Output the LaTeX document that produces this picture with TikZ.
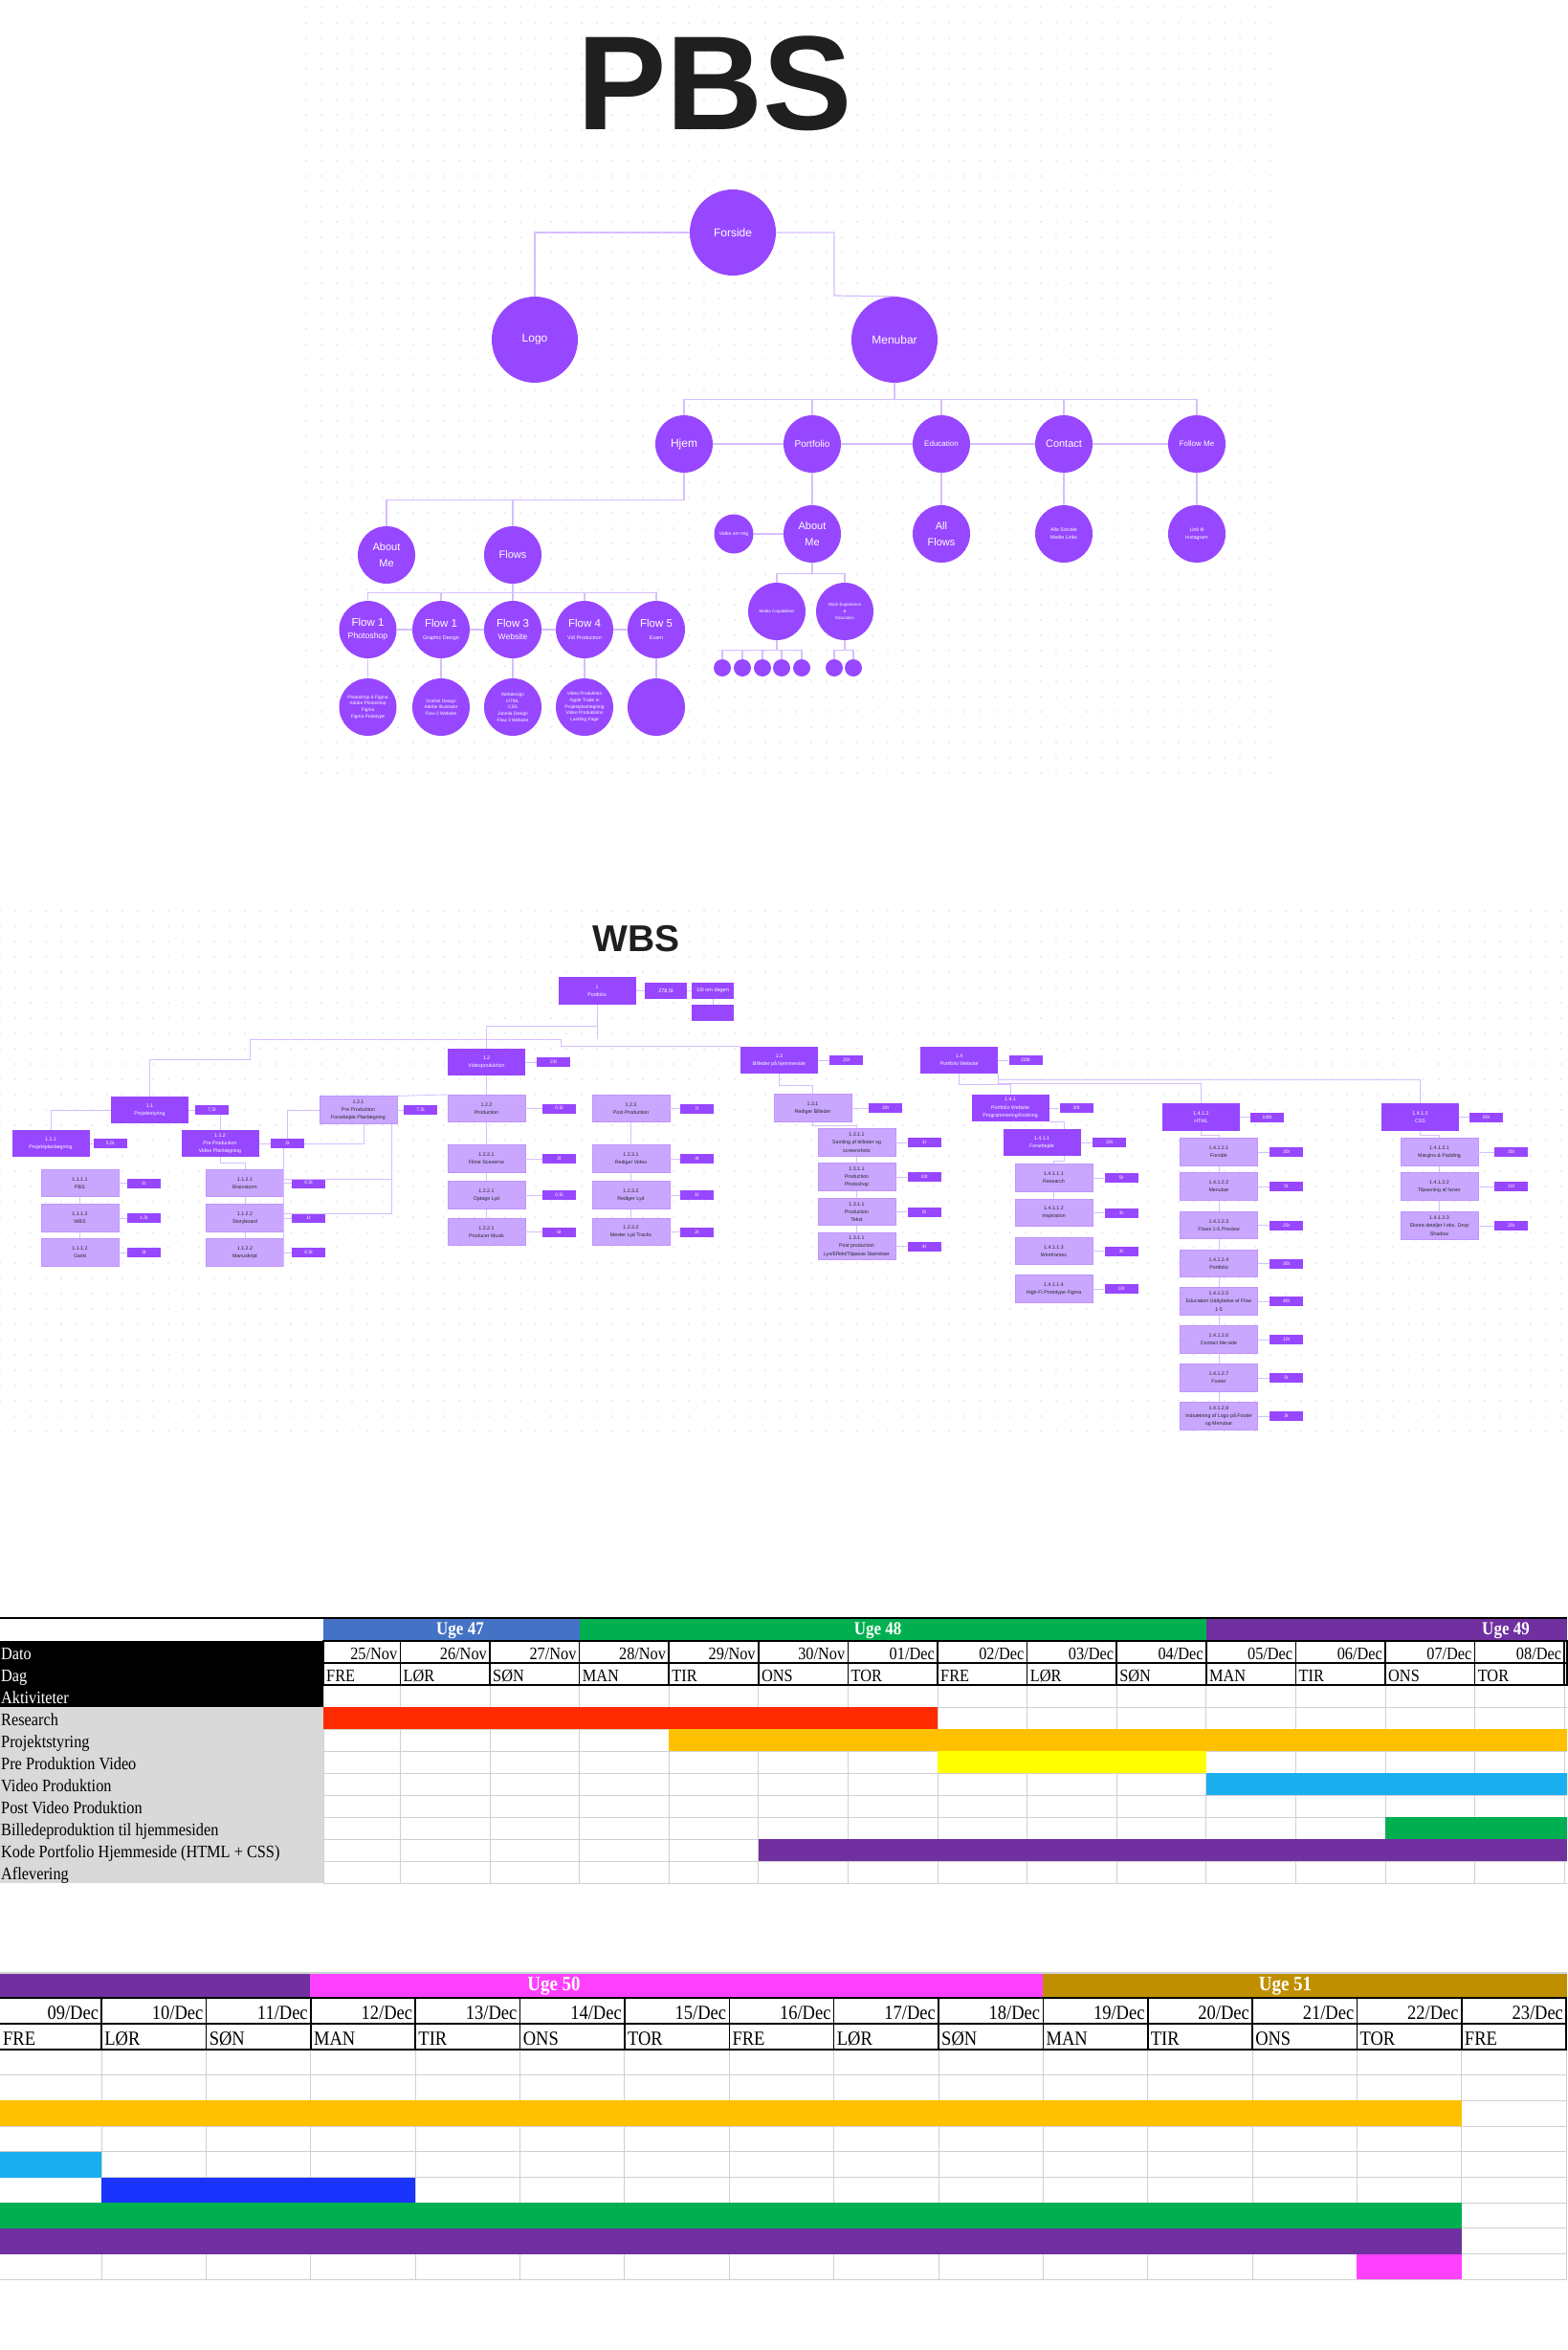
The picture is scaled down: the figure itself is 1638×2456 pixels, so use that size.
\documentclass[tikz,border=0pt]{standalone}
\usepackage{fontspec}
\usepackage{tikz}
\usetikzlibrary{calc,positioning,patterns.meta}
\setmainfont{Liberation Sans}
\newfontfamily\regneark{Liberation Serif}
\definecolor{lilla}{HTML}{9747FF}
\definecolor{lysLilla}{HTML}{C9A7FF}
\definecolor{linjeLilla}{HTML}{D6BEFF}
\definecolor{prikGra}{HTML}{DDDDDD}
\definecolor{ugeBla}{HTML}{4472C4}
\definecolor{ugeGron}{HTML}{00B050}
\definecolor{ugeLilla}{HTML}{7030A0}
\definecolor{ugePink}{HTML}{FF40FF}
\definecolor{ugeGuld}{HTML}{BF8F00}
\definecolor{rod}{HTML}{FF2A00}
\definecolor{gulOrange}{HTML}{FFC000}
\definecolor{gul}{HTML}{FFFF00}
\definecolor{cyanBla}{HTML}{1AAFEF}
\definecolor{morkBla}{HTML}{1A33FF}
\definecolor{etiketGra}{HTML}{D9D9D9}
\definecolor{gitterGra}{HTML}{D0D0D0}
\newcommand{\skrift}[2]{\fontsize{#1}{#2}\selectfont}
\newcommand{\hoj}[1]{\scalebox{1}[1.13]{#1}}

\begin{document}
\begin{tikzpicture}[x=1pt,y=-1pt,
  cirkel/.style={circle,fill=lilla,text=white,inner sep=0pt,align=center,minimum size=60pt,font=\skrift{11}{17}},
  stor/.style={cirkel,minimum size=90pt,font=\skrift{12}{14}},
  lille/.style={cirkel,minimum size=41pt,font=\skrift{5}{6}},
  prik/.style={cirkel,minimum size=18pt},
  detalje/.style={cirkel,font=\skrift{4.8}{6.7}},
  linje/.style={draw=linjeLilla,line width=1.2pt},
  boks/.style={rectangle,fill=lilla,text=white,inner sep=1pt,align=center,minimum width=81pt,minimum height=28.5pt,font=\skrift{5.3}{8.3}},
  lysBoks/.style={boks,fill=lysLilla,draw=lysLilla!80!lilla,line width=0.6pt,text=black!85},
  tid/.style={rectangle,fill=lilla,text=white,inner sep=0pt,minimum width=35pt,minimum height=10pt,font=\skrift{5}{6}},
  wlinje/.style={draw=linjeLilla,line width=0.8pt},
  arkTekst/.style={font=\regneark\skrift{16.3}{17},inner sep=0pt},
  storTekst/.style={font=\regneark\skrift{18.5}{19},inner sep=0pt},
  ugeTekst/.style={font=\regneark\bfseries\skrift{17}{17},text=white,inner sep=0pt}]
\useasboundingbox (0,0) rectangle (1638,2456);
\fill[pattern={Dots[radius=0.8pt,distance=16pt]},pattern color=prikGra] (305,0) rectangle (1331,814);
\fill[pattern={Dots[radius=0.8pt,distance=16pt]},pattern color=prikGra] (0,947) rectangle (1638,1503);

\node[font=\bfseries\skrift{140}{140},text=black!88,inner sep=0pt] (pbsTitel) at (747,87) {PBS};
\node[stor] (forside) at (766,243) {Forside};
\node[stor] (logo) at (559,355) {Logo};
\node[stor] (menubar) at (935,355) {Menubar};
\node[cirkel,font=\skrift{12}{14}] (hjem) at (715,464) {Hjem};
\node[cirkel,font=\skrift{10}{12}] (portfolio) at (849,464) {Portfolio};
\node[cirkel,font=\skrift{8}{10}] (education) at (984,464) {Education};
\node[cirkel] (contact) at (1112,464) {Contact};
\node[cirkel,font=\skrift{8}{10}] (followme) at (1251,464) {Follow Me};
\node[cirkel] (aboutme) at (404,580) {About\\Me};
\node[cirkel] (flows) at (536,580) {Flows};
\node[lille] (videoommig) at (767,558) {Video om mig};
\node[cirkel] (omMig) at (849,558) {About\\Me};
\node[cirkel] (allflows) at (984,558) {All\\Flows};
\node[cirkel,font=\skrift{5.3}{8}] (sociale) at (1112,558) {Alle Sociale\\Medie Links};
\node[cirkel,font=\skrift{5.3}{8}] (instagram) at (1251,558) {Link til\\Instagram};
\node[cirkel,font=\skrift{4.5}{7}] (medie) at (812,639) {Media Capabilities};
\node[cirkel,font=\skrift{4.5}{7}] (arbejde) at (883,639) {Work Experience\\\&\\Education};
\foreach \n/\x/\titel/\under/\us in {1/384.5/{Flow 1}/Photoshop/8.7, 2/461/{Flow 1}/{Graphic Design}/5.5, 3/536/{Flow 3}/Website/8.5, 4/611/{Flow 4}/{Vid Production}/5.5, 5/686/{Flow 5}/Exam/5.5}
  \node[cirkel,font=\skrift{11.5}{13}] (flow\n) at (\x,658) {\titel\\{\skrift{\us}{\us}\under}};
\node[detalje] (det1) at (384.5,739) {Photoshop \& Figma\\Adobe Photoshop\\Figma\\Figma Prototype};
\node[detalje] (det2) at (461,739) {Grafisk Design\\Adobe Illustrator\\Flow 2 Website};
\node[detalje] (det3) at (536,739) {Webdesign\\HTML\\CSS\\Joomla Design\\Flow 3 Website};
\node[detalje] (det4) at (611,739) {Video Produktion\\Apple Trade In\\Projektplanlægning\\Video Produktions\\Landing Page};
\node[detalje] (det5) at (686,739) {};
\foreach \x [count=\i] in {755,776,797,817,838} \node[prik] (m\i) at (\x,698) {};
\foreach \x [count=\i] in {872,892} \node[prik] (w\i) at (\x,698) {};

\coordinate (knaek) at (872,309);
\draw[linje] (forside) -| (logo);
\draw[linje] (forside) -| (knaek) -- (menubar.north);
\draw[linje] (menubar.south) -- ++(0,17) coordinate (menuSkinne);
\draw[linje] (menuSkinne -| hjem) -- (menuSkinne -| followme);
\foreach \n in {hjem,portfolio,education,contact,followme} \draw[linje] (menuSkinne -| \n) -- (\n);
\foreach \a/\b in {hjem/portfolio,portfolio/education,education/contact,contact/followme,portfolio/omMig,education/allflows,contact/sociale,followme/instagram,videoommig/omMig} \draw[linje] (\a) -- (\b);
\draw[linje] (hjem.south) -- ++(0,28) coordinate (hjemSkinne) -| (aboutme);
\draw[linje] (hjemSkinne -| flows) -- (flows);
\draw[linje] (flows.south) -- ++(0,9) coordinate (flowSkinne);
\draw[linje] (flowSkinne -| flow1) -- (flowSkinne -| flow5);
\foreach \i in {1,...,5} {
  \draw[linje] (flowSkinne -| flow\i) -- (flow\i);
  \draw[linje] (flow\i) -- (det\i);
}
\foreach \a/\b in {1/2,2/3,3/4,4/5} \draw[linje] (flow\a) -- (flow\b);
\draw[linje] (omMig.south) -- ++(0,11) coordinate (omSkinne);
\draw[linje] (omSkinne -| medie) -- (omSkinne -| arbejde);
\draw[linje] (omSkinne -| medie) -- (medie);
\draw[linje] (omSkinne -| arbejde) -- (arbejde);
\draw[linje] (medie.south) -- ++(0,10) coordinate (medieSkinne);
\draw[linje] (medieSkinne -| m1) -- (medieSkinne -| m5);
\foreach \i in {1,...,5} \draw[linje] (medieSkinne -| m\i) -- (m\i);
\draw[linje] (arbejde.south) -- ++(0,10) coordinate (arbejdeSkinne);
\draw[linje] (arbejdeSkinne -| w1) -- (arbejdeSkinne -| w2);
\foreach \i in {1,2} \draw[linje] (arbejdeSkinne -| w\i) -- (w\i);

\node[font=\bfseries\skrift{39}{39},text=black!88,inner sep=0pt] (wbsTitel) at (665,981) {WBS};
\node[boks] (p1) at (624,1035.5) {1\\Portfolio};
\node[tid,minimum width=44pt,minimum height=17pt,font=\skrift{5.5}{6}] (tp1) at (696,1035.5) {278,5t};
\node[tid,minimum width=44pt,minimum height=17pt,font=\skrift{5.5}{6}] (dag) at (745,1035.5) {10t om dagen};
\node[tid,minimum width=44pt,minimum height=17pt] (note) at (745,1058.5) {};
\draw[wlinje] (p1) -- (tp1);
\draw[wlinje] (tp1) -- (dag);
\draw[wlinje] (dag) -- (note);
\foreach \n/\x/\y/\tekst/\antal/\tx in {
  v12/508.5/1110/{1.2\\Videoproduktion}/23t/578.5,
  b11/156.5/1160/{1.1\\Projektstyring}/{7,5t}/221.5,
  b111/53/1195/{1.1.1\\Projektplanlægning}/{5,5t}/115,
  b112/230/1195/{1.1.2\\Pre Production\\Video Planlægning}/2t/300.5,
  b13/814.5/1108/{1.3\\Billeder på hjemmeside}/20t/884.5,
  b14/1002.5/1108/{1.4\\Portfolio Website}/228t/1072,
  b141/1056/1158/{1.4.1\\Portfolio Website\\Programmering/Kodning}/20t/1125,
  b1411/1089/1194/{1.4.1.1\\Forarbejde}/20t/1159.5,
  html/1255.5/1167.5/{1.4.1.2\\HTML}/148t/1324.5,
  css/1484.5/1167.5/{1.4.1.3\\CSS}/60t/1553.5}
{
  \node[boks] (\n) at (\x,\y) {\tekst};
  \node[tid] (t\n) at (\tx,\y) {\antal};
  \draw[wlinje] (\n) -- (t\n);
}
\foreach \n/\x/\y/\tekst/\antal/\tx in {
  b121/374.5/1160/{1.2.1\\Pre Production\\Forarbejde Planlægning}/{7,5t}/439.5,
  b122/508.5/1158.5/{1.2.2\\Production}/{0,5t}/584.5,
  b1221/508.5/1211/{1.2.2.1\\Filme Scenerne}/2t/584.5,
  b1222/508.5/1249/{1.2.2.1\\Optage Lyd}/{0,5t}/584.5,
  b1223/508.5/1287.5/{1.2.2.1\\Producer Musik}/6t/584.5,
  b123/659.5/1158.5/{1.2.3\\Post Production}/7t/728.5,
  b1231/659.5/1211/{1.2.3.1\\Rediger Video}/4t/728.5,
  b1232/659.5/1249/{1.2.3.2\\Rediger Lyd}/1t/728.5,
  b1233/659.5/1287.5/{1.2.3.2\\Mester Lyd Tracks}/2t/728.5,
  b1111/83.5/1236.5/{1.1.1.1\\PBS}/1t/150.5,
  b1112/83.5/1273/{1.1.1.2\\WBS}/{1,5t}/150.5,
  b1113/83.5/1309/{1.1.1.2\\Gantt}/3t/150.5,
  b1121/256/1236.5/{1.1.2.1\\Brainstorm}/{0,5t}/322.5,
  b1122/256/1273/{1.1.2.2\\Storyboard}/1t/322.5,
  b1123/256/1309/{1.1.2.2\\Manuskript}/{0,5t}/322.5,
  b131/849.5/1158/{1.3.1\\Rediger Billeder}/20t/925.5,
  b1311/895.5/1194/{1.3.1.1\\Samling af billeder og\\screenshots}/1t/966,
  b1312/895.5/1230/{1.3.1.1\\Production\\Photoshop}/10t/966,
  b1313/895.5/1266.5/{1.3.1.1\\Production\\Tekst}/5t/966,
  b1314/895.5/1302.5/{1.3.1.1\\Post production\\Lys/Effekt/Tilpasse Størrelser}/4t/966,
  r1/1101.5/1231/{1.4.1.1.1\\Research}/5t/1172,
  r2/1101.5/1267.5/{1.4.1.1.2\\Inspiration}/3t/1172,
  r3/1101.5/1307.5/{1.4.1.1.3\\Wireframes}/3t/1172,
  r4/1101.5/1347/{1.4.1.1.4\\High-Fi Prototype Figma}/10t/1172,
  h1/1274/1204/{1.4.1.2.1\\Forside}/30t/1344.5,
  h2/1274/1240/{1.4.1.2.2\\Menubar}/5t/1344.5,
  h3/1274/1280.5/{1.4.1.2.3\\Flows 1-5 Preview}/25t/1344.5,
  h4/1274/1320.5/{1.4.1.2.4\\Portfolio}/30t/1344.5,
  h5/1274/1360/{1.4.1.2.5\\Education Uddybelse af Flow\\1-5}/40t/1344.5,
  h6/1274/1400/{1.4.1.2.6\\Contact Me side}/10t/1344.5,
  h7/1274/1440/{1.4.1.2.7\\Footer}/5t/1344.5,
  h8/1274/1480/{1.4.1.2.8\\Indsætning af Logo på Footer\\og Menubar}/3t/1344.5,
  c1/1504.5/1204/{1.4.1.3.1\\Margins \& Padding}/30t/1579.5,
  c2/1504.5/1240/{1.4.1.3.2\\Tilpasning af farver}/10t/1579.5,
  c3/1504.5/1281/{1.4.1.3.3\\Ekstra detaljer f.eks. Drop\\Shadow}/20t/1579.5}
{
  \node[lysBoks] (\n) at (\x,\y) {\tekst};
  \node[tid] (t\n) at (\tx,\y) {\antal};
  \draw[wlinje] (\n) -- (t\n);
}
\coordinate (grenV) at (261,1086);
\coordinate (grenH) at (586,1086);
\draw[wlinje] (p1.south) -- ++(0,22) -| (v12.north);
\draw[wlinje] (p1.south) -- (p1.south |- grenH);
\draw[wlinje] (grenV) -- (grenH);
\draw[wlinje] (grenV) -- ++(0,21) -| (b11.north);
\draw[wlinje] (grenH) |- (b13.north west);
\draw[wlinje] (b11.west) -| (b111.north);
\draw[wlinje] (tb11.south -| b112.north) -- (b112.north);
\draw[wlinje] (b112.south) -- ++(0,6) -| (b1121.north);
\draw[wlinje] (b121.north east) -- (b122.north west);
\draw[wlinje] (b121.west) -| (tb112.north);
\draw[wlinje] ($(b121.south)+(5.5,0)$) |- (tb112.east);
\draw[wlinje] ($(b121.south)+(34.5,0)$) |- ($(b1121.east)+(0,-4.5)$);
\draw[wlinje] ($(b121.south)+(34.5,0)$) |- ($(b1122.east)+(0,-5)$);
\draw[wlinje] (tb112.south -| b1123.east) -- (b1123.south east);
\foreach \a/\b in {b1111/b1112,b1112/b1113,b1121/b1122,b1122/b1123,v12/b122,b122/b1221,b1221/b1222,b1222/b1223,b123/b1231,b1231/b1232,b1232/b1233,b1311/b1312,b1312/b1313,b1313/b1314,r1/r2,h1/h2,h2/h3,h3/h4,h4/h5,h5/h6,h6/h7,h7/h8,c1/c2,c2/c3}
  \draw[wlinje] (\a) -- (\b);
\draw[wlinje] (b13.south) -- ++(0,12) -| (b131.north);
\draw[wlinje] (b131.south) -- ++(0,3.5) -| (b1311.north);
\draw[wlinje] (b14.south) -- ++(0,11) -| (b141.north);
\draw[wlinje] (b14.south east) -- ++(0,5.5) -| (css.north);
\draw[wlinje] (b14.south east) -- ++(0,10) -| (html.north);
\draw[wlinje] (b141.south east) -| ($(b1411.north)+(23.5,0)$);
\draw[wlinje] ($(b1411.south)+(23.5,0)$) -- ++(0,5) -| (r1.north);
\draw[wlinje] (html.south) -- ++(0,4) -| (h1.north);
\draw[wlinje] (css.south) -- ++(0,4) -| (c1.north);

\draw[line width=2pt] (0,1691) -- (1638,1691);
\fill[ugeBla] (338,1692) rectangle (605.6,1715);
\fill[ugeGron] (605.6,1692) rectangle (1261,1715);
\fill[ugeLilla] (1261,1692) rectangle (1638,1715);
\node[ugeTekst] (uge47) at (481,1704) {\hoj{Uge 47}};
\node[ugeTekst] (uge48) at (917.6,1704) {\hoj{Uge 48}};
\node[ugeTekst] (uge49) at (1574,1704) {\hoj{Uge 49}};
\fill[black] (0,1715) rectangle (338,1784);
\fill[etiketGra] (0,1784) rectangle (338,1968);
\node[arkTekst,text=white,anchor=base west] (dato) at (1,1734) {\hoj{Dato}};
\node[arkTekst,text=white,anchor=base west] (dagLabel) at (1,1757) {\hoj{Dag}};
\node[arkTekst,text=white,anchor=base west] (aktiviteter) at (1,1780) {\hoj{Aktiviteter}};
\foreach \tekst [count=\r] in {Research,Projektstyring,Pre Produktion Video,Video Produktion,Post Video Produktion,Billedeproduktion til hjemmesiden,Kode Portfolio Hjemmeside (HTML + CSS),Aflevering}
  \node[arkTekst,anchor=base west] (aktivitet\r) at (1,1780+23*\r) {\hoj{\tekst}};
\foreach \k in {0,...,9} \draw[gitterGra,line width=1pt] (338,1761+23*\k) -- (1638,1761+23*\k);
\draw[gitterGra,line width=1pt] (338,1761) -- (338,1968);
\foreach \i in {1,...,14} \draw[gitterGra,line width=1pt] (418.4+93.6*\i-93.6,1761) -- (418.4+93.6*\i-93.6,1968);
\foreach \farve/\xa/\r/\xb in {rod/338/1/980, gulOrange/699.2/2/1638, gul/980/3/1260.8, cyanBla/1260.8/4/1638, ugeGron/1448/6/1638, ugeLilla/792.8/7/1638}
  \fill[\farve] (\xa,1761+23*\r) rectangle (\xb,1784+23*\r);
\draw[line width=1.6pt] (338,1715) rectangle (1638,1761);
\draw[line width=1.6pt] (338,1738) -- (1638,1738);
\foreach \d/\g [count=\i] in {{25/Nov}/FRE,{26/Nov}/LØR,{27/Nov}/SØN,{28/Nov}/MAN,{29/Nov}/TIR,{30/Nov}/ONS,{01/Dec}/TOR,{02/Dec}/FRE,{03/Dec}/LØR,{04/Dec}/SØN,{05/Dec}/MAN,{06/Dec}/TIR,{07/Dec}/ONS,{08/Dec}/TOR}{
  \pgfmathsetmacro{\hojre}{418.4+93.6*(\i-1)}
  \pgfmathsetmacro{\venstre}{max(338,\hojre-93.6)}
  \draw[line width=1.6pt] (\hojre,1715) -- (\hojre,1761);
  \node[arkTekst,anchor=base east] (datoA\i) at (\hojre-3,1734) {\hoj{\d}};
  \node[arkTekst,anchor=base west] (dagA\i) at (\venstre+3,1757) {\hoj{\g}};
}

\draw[gitterGra,line width=1.5pt] (0,2062) -- (1638,2062);
\fill[ugeLilla] (0,2063) rectangle (324,2088);
\fill[ugePink] (324,2063) rectangle (1090,2088);
\fill[ugeGuld] (1090,2063) rectangle (1638,2088);
\node[ugeTekst,font=\regneark\bfseries\skrift{19}{19}] (uge50) at (579,2076) {\hoj{Uge 50}};
\node[ugeTekst,font=\regneark\bfseries\skrift{19}{19}] (uge51) at (1343.5,2076) {\hoj{Uge 51}};
\foreach \k in {0,...,9} \draw[gitterGra,line width=1pt] (0,2142+26.7*\k) -- (1638,2142+26.7*\k);
\foreach \i in {1,...,15} \draw[gitterGra,line width=1pt] (106.2+109.35*\i-109.35,2142) -- (106.2+109.35*\i-109.35,2382.3);
\foreach \farve/\xa/\r/\xb in {gulOrange/0/2/1527.75, cyanBla/0/4/106.2, morkBla/106.2/5/434.25, ugeGron/0/6/1527.75, ugeLilla/0/7/1527.75, ugePink/1418.4/8/1527.75}
  \fill[\farve] (\xa,2142+26.7*\r) rectangle (\xb,2168.7+26.7*\r);
\draw[line width=1.6pt] (0,2088) -- (1638,2088);
\draw[line width=1.6pt] (0,2115) -- (1638,2115);
\draw[line width=1.6pt] (0,2142) -- (1638,2142);
\foreach \d/\g [count=\i] in {{09/Dec}/FRE,{10/Dec}/LØR,{11/Dec}/SØN,{12/Dec}/MAN,{13/Dec}/TIR,{14/Dec}/ONS,{15/Dec}/TOR,{16/Dec}/FRE,{17/Dec}/LØR,{18/Dec}/SØN,{19/Dec}/MAN,{20/Dec}/TIR,{21/Dec}/ONS,{22/Dec}/TOR,{23/Dec}/FRE}{
  \pgfmathsetmacro{\hojre}{106.2+109.35*(\i-1)}
  \pgfmathsetmacro{\venstre}{max(0,\hojre-109.35)}
  \draw[line width=1.6pt] (\hojre,2088) -- (\hojre,2142);
  \node[storTekst,anchor=base east] (datoB\i) at (\hojre-3,2110) {\hoj{\d}};
  \node[storTekst,anchor=base west] (dagB\i) at (\venstre+3,2137) {\hoj{\g}};
}
\end{tikzpicture}
\end{document}
